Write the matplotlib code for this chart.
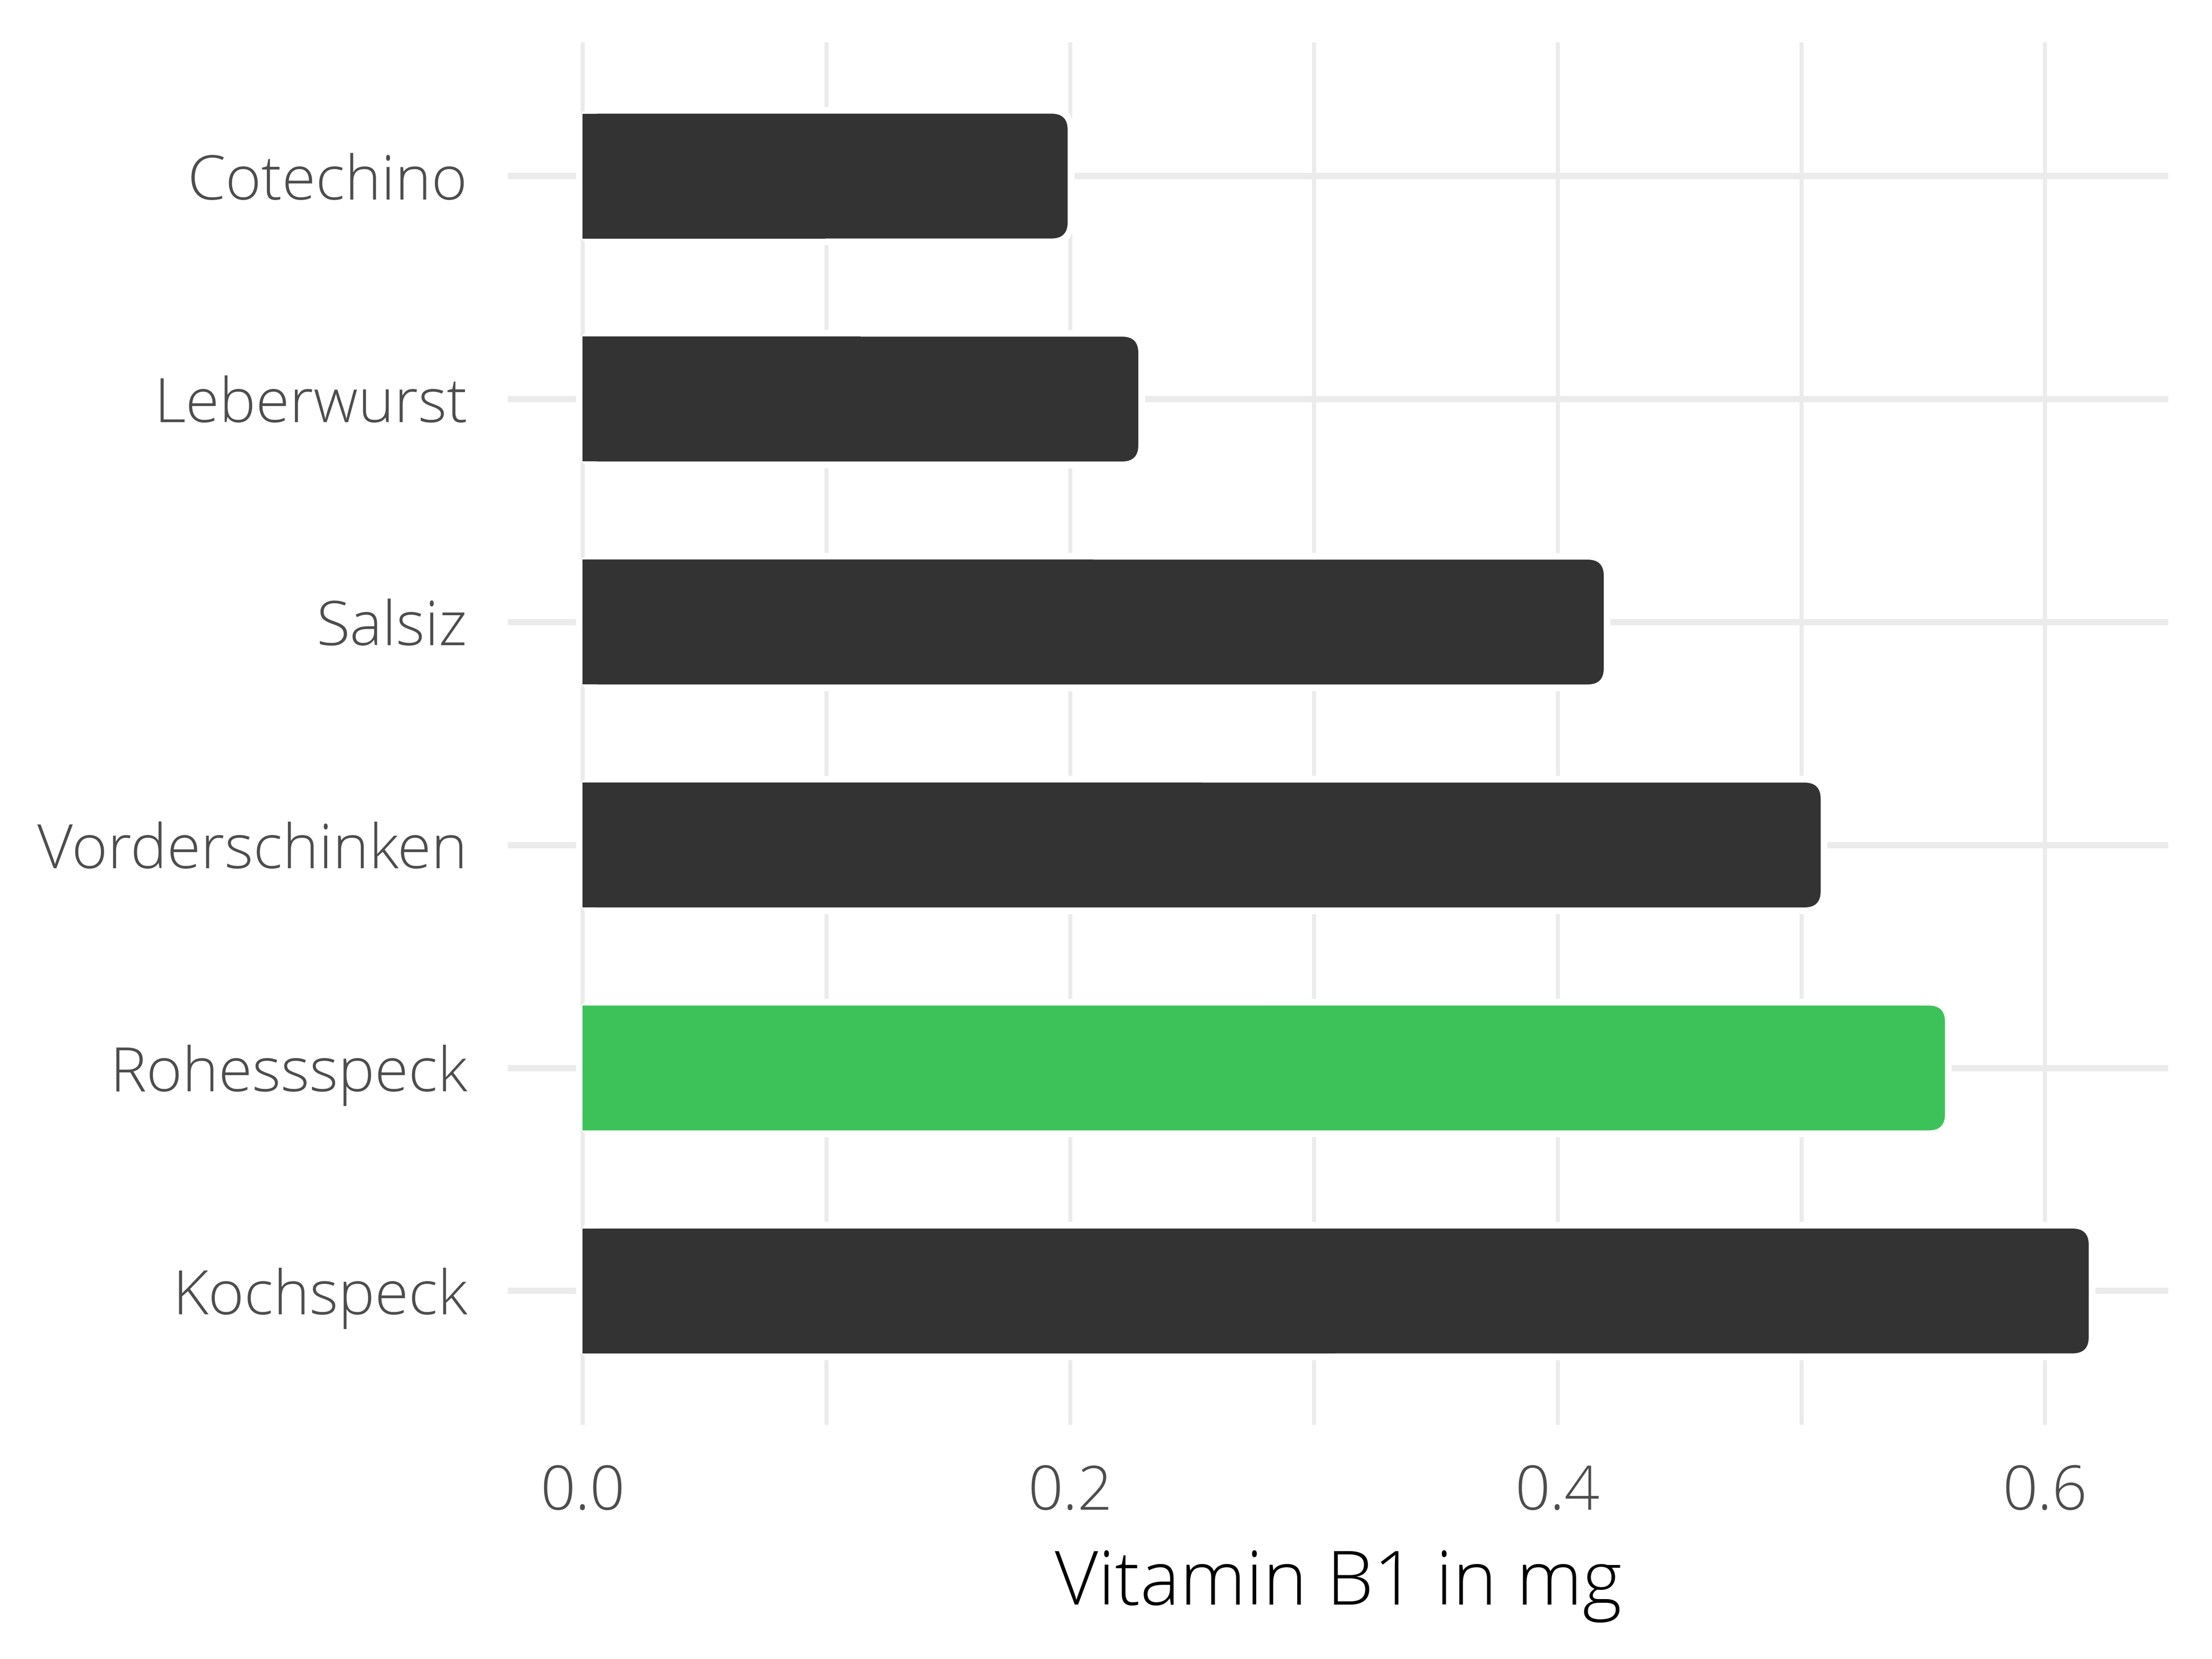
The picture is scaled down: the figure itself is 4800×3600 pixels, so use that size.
import numpy as np
import matplotlib
matplotlib.use("Agg")
import matplotlib.pyplot as plt
from matplotlib.patches import FancyBboxPatch, Rectangle

# data, bottom to top
foods = ["Kochspeck", "Rohessspeck", "Vorderschinken", "Salsiz", "Leberwurst", "Cotechino"]
vitamin_b1 = [0.618, 0.559, 0.508, 0.419, 0.228, 0.199]
highlight = "Rohessspeck"

dark = "#333333"
green = "#3DC25A"
grid_col = "#EBEBEB"

plt.rcParams["font.family"] = ["Open Sans", "DejaVu Sans"]

fig = plt.figure(figsize=(16, 12), dpi=300)
ax = fig.add_axes([0.2296, 0.1412, 0.7506, 0.8333])

y = np.arange(len(foods))
ax.set_xlim(-0.0307, 0.6506)
ax.set_ylim(-0.6, len(foods) - 0.4)

ax.set_xticks([0.0, 0.2, 0.4, 0.6])
ax.set_xticks([0.1, 0.3, 0.5], minor=True)
ax.set_xticklabels(["0.0", "0.2", "0.4", "0.6"])
ax.set_yticks(y)
ax.set_yticklabels(foods)

for s in ax.spines.values():
    s.set_visible(False)
ax.tick_params(axis="both", which="both", length=0)
ax.tick_params(axis="y", pad=21, labelsize=32, labelcolor="#4D4D4D")
ax.tick_params(axis="x", pad=20, labelsize=32, labelcolor="#4D4D4D")
for lab in ax.get_xticklabels() + ax.get_yticklabels():
    lab.set_fontweight("light")

ax.grid(axis="x", which="both", color=grid_col, linewidth=2.1, zorder=0)
ax.grid(axis="y", which="major", color=grid_col, linewidth=3.3, zorder=0)
ax.set_axisbelow(True)

ax.set_xlabel("Vitamin B1 in mg", fontsize=39, fontweight="light", color="black", labelpad=12)

# bars via barh for geometry, then rounded look on top
height = 0.56
colors = [green if f == highlight else dark for f in foods]
bars = ax.barh(y, vitamin_b1, height=height, color=colors, zorder=2)

fig.canvas.draw()
p0 = ax.transData.transform((0, 0))
p1 = ax.transData.transform((1, 1))
px_x = p1[0] - p0[0]
px_y = p1[1] - p0[1]
radius_px = 35
rx = radius_px / px_x
aspect = (radius_px / px_y) / rx

for b, c in zip(bars, colors):
    x0, y0 = b.get_x(), b.get_y()
    w, h = b.get_width(), b.get_height()
    b.set_visible(False)
    halo = FancyBboxPatch((x0, y0), w, h, boxstyle=f"round,pad=0,rounding_size={rx}",
                          mutation_aspect=aspect, facecolor="white", edgecolor="white",
                          linewidth=7, zorder=2)
    body = FancyBboxPatch((x0, y0), w, h, boxstyle=f"round,pad=0,rounding_size={rx}",
                          mutation_aspect=aspect, facecolor=c, edgecolor="none",
                          linewidth=0, zorder=3)
    left = Rectangle((x0, y0), w / 2, h, facecolor=c, edgecolor="none", zorder=3)
    ax.add_patch(halo)
    ax.add_patch(body)
    ax.add_patch(left)

fig.savefig("out.png", dpi=300, facecolor="white")
